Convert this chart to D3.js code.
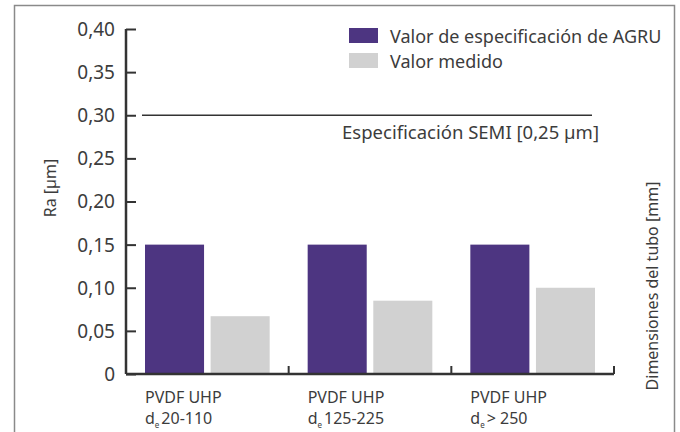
<!DOCTYPE html>
<html>
<head>
<meta charset="utf-8">
<script src="https://cdn.jsdelivr.net/npm/d3@7"></script>
<style>
  body { margin: 0; background: #fff; }
  text { font-family: "Noto Sans", "DejaVu Sans", sans-serif; fill: #3c3c3c; }
</style>
</head>
<body>
<div id="wrapper"></div>
<script>
const categories = ["PVDF UHP|20-110", "PVDF UHP|125-225", "PVDF UHP|> 250"];
const specValues = [0.15, 0.15, 0.15];
const measuredValues = [0.067, 0.085, 0.10];
const seriesNames = ["Valor de especificación de AGRU", "Valor medido"];
const yTicks = [0, 0.05, 0.10, 0.15, 0.20, 0.25, 0.30, 0.35, 0.40];
const semiLine = 0.30;
const semiLabel = "Especificación SEMI [0,25 µm]";

const colors = ["#4d3581", "#d1d1d1"];

var dimension = {
    width: 680,
    height: 432,
    margin: { top: 29, left: 126, bottom: 58, right: 66 }
};
dimension.boundedWidth = dimension.width - dimension.margin.left - dimension.margin.right;
dimension.boundedHeight = dimension.height - dimension.margin.top - dimension.margin.bottom;

const svg = d3.select("#wrapper").append("svg")
    .attr("width", dimension.width)
    .attr("height", dimension.height);

// outer frame (no bottom edge)
svg.append("path")
    .attr("d", "M14.5,432 V5.5 H674.5 V432")
    .attr("fill", "none")
    .attr("stroke", "#8a8a8a")
    .attr("stroke-width", 1.5);

const bounded = svg.append("g")
    .attr("transform", `translate(${dimension.margin.left},${dimension.margin.top})`);

const data = categories.map((c, i) => ({ cat: c, values: [specValues[i], measuredValues[i]] }));

const xScaler = d3.scaleBand()
    .domain(categories)
    .range([0, 488]);

const innerScaler = d3.scaleBand()
    .domain([0, 1])
    .range([19, xScaler.bandwidth() - 19])
    .paddingInner(0.1);

const yScaler = d3.scaleLinear()
    .domain([0, 0.40])
    .range([dimension.boundedHeight + 0, 0]);

// bars
const groups = bounded.selectAll(".grp").data(data).join("g")
    .attr("transform", d => `translate(${xScaler(d.cat)},0)`);
groups.selectAll("rect").data(d => d.values).join("rect")
    .attr("x", (d, i) => innerScaler(i))
    .attr("width", innerScaler.bandwidth())
    .attr("y", d => yScaler(d))
    .attr("height", d => yScaler(0) - yScaler(d))
    .attr("fill", (d, i) => colors[i]);

// y axis
const yAxis = d3.axisRight(yScaler)
    .tickValues(yTicks)
    .tickSize(10)
    .tickFormat(d => d === 0 ? "0" : d3.format(".2f")(d).replace(".", ","));
const yg = bounded.append("g").call(yAxis)
    .attr("font-size", null).attr("font-family", null);
yg.select(".domain").attr("d", `M0,${yScaler(0.40)}V${yScaler(0)}`).attr("stroke", "#333").attr("stroke-width", 2.5);
yg.selectAll(".tick line").attr("stroke", "#333").attr("stroke-width", 2);
yg.selectAll(".tick text")
    .attr("x", -11)
    .attr("dy", "0.34em")
    .attr("text-anchor", "end")
    .style("font-size", "19px")
    .attr("fill", null);

// x axis with upward category separators
const xg = bounded.append("g").attr("transform", `translate(0,${yScaler(0)})`);
xg.append("line")
    .attr("x1", 0).attr("x2", xScaler.range()[1])
    .attr("stroke", "#333").attr("stroke-width", 2.5);
xg.selectAll(".sep").data(categories).join("line")
    .attr("x1", d => xScaler(d) + xScaler.bandwidth())
    .attr("x2", d => xScaler(d) + xScaler.bandwidth())
    .attr("y1", 0).attr("y2", -8)
    .attr("stroke", "#333").attr("stroke-width", 2);

// category labels: two lines, second with subscript "e"
xg.selectAll(".lab1").data(categories).join("text")
    .attr("x", d => xScaler(d) + 19)
    .attr("y", 29)
    .style("font-size", "16px")
    .text(d => d.split("|")[0]);
const lab2 = xg.selectAll(".lab2").data(categories).join("text")
    .attr("x", d => xScaler(d) + 19)
    .attr("y", 50)
    .style("font-size", "16px");
lab2.append("tspan").text("d");
lab2.append("tspan").style("font-size", "8px").attr("dy", 4).text("e");
lab2.append("tspan").attr("dy", -4).attr("dx", 2).text(d => d.split("|")[1]);

// SEMI reference line
bounded.append("line")
    .attr("x1", 16).attr("x2", 466)
    .attr("y1", yScaler(semiLine)).attr("y2", yScaler(semiLine))
    .attr("stroke", "#333").attr("stroke-width", 1.5);
bounded.append("text")
    .attr("x", 473).attr("y", yScaler(semiLine) + 24)
    .attr("text-anchor", "end")
    .style("font-size", "18.5px")
    .text(semiLabel);

// legend
const legend = svg.append("g").attr("transform", "translate(349,28)");
seriesNames.forEach((name, i) => {
    legend.append("rect")
        .attr("x", 0).attr("y", i * 25)
        .attr("width", 29).attr("height", 15)
        .attr("fill", colors[i]);
    legend.append("text")
        .attr("x", 41).attr("y", i * 25 + 15)
        .style("font-size", "18px")
        .text(name);
});

// axis titles
svg.append("text")
    .attr("transform", "translate(56,188) rotate(-90)")
    .attr("text-anchor", "middle")
    .style("font-size", "16px")
    .text("Ra [µm]");
svg.append("text")
    .attr("transform", "translate(658,286) rotate(-90)")
    .attr("text-anchor", "middle")
    .style("font-size", "16px")
    .text("Dimensiones del tubo [mm]");
</script>
</body>
</html>
